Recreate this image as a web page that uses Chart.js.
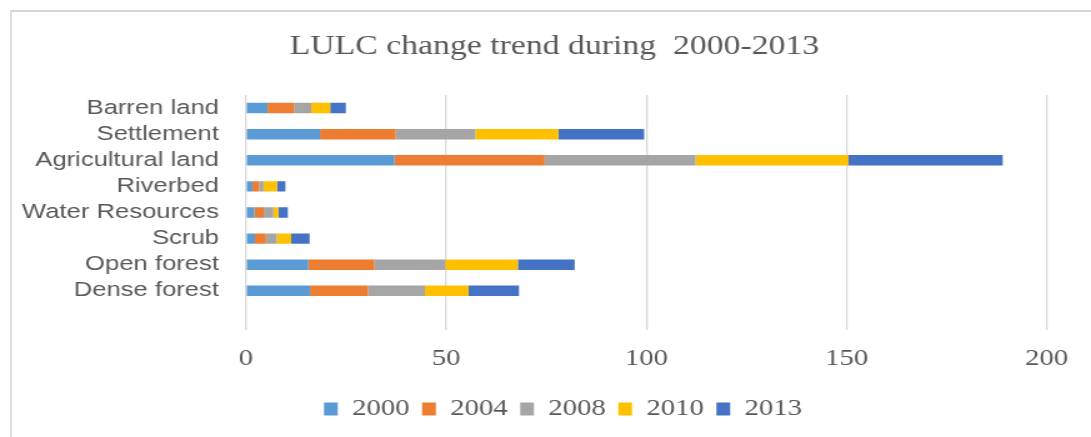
<!DOCTYPE html>
<html>
<head>
<meta charset="utf-8">
<script src="https://cdn.jsdelivr.net/npm/chart.js@4.4.1/dist/chart.umd.min.js"></script>
<style>
  html, body { margin: 0; padding: 0; background: #fff; overflow: hidden; }
  #stage { position: relative; width: 1091px; height: 437px; }
  #frame { position: absolute; left: 10px; top: 10px; right: -4px; bottom: -4px;
           border-left: 2px solid #dedede; border-top: 2px solid #d6d6d6; }
  #wrap { position: absolute; left: 0; top: 0; width: 873px; height: 437px;
          transform: scaleX(1.2497); transform-origin: 0 0; }
</style>
</head>
<body>
<div id="stage">
  <div id="frame"></div>
  <div id="wrap"><canvas id="c" width="873" height="437"></canvas></div>
</div>
<script>
// ---- data ----
const categories = ["Barren land", "Settlement", "Agricultural land", "Riverbed",
                    "Water Resources", "Scrub", "Open forest", "Dense forest", ""];
const years = ["2000", "2004", "2008", "2010", "2013"];
const v2000 = [5.4, 18.5, 37.1, 1.6, 2.1, 2.25, 15.6, 16.0, null];
const v2004 = [6.6, 18.9, 37.5, 1.7, 2.35, 2.75, 16.5, 14.5, null];
const v2008 = [4.3, 19.9, 37.7, 1.1, 2.4, 2.7, 17.7, 14.2, null];
const v2010 = [4.75, 20.75, 38.2, 3.35, 1.25, 3.6, 18.1, 10.9, null];
const v2013 = [3.9, 21.4, 38.5, 2.1, 2.35, 4.6, 14.2, 12.6, null];
const xTicks = [0, 50, 100, 150, 200];
const titleText = "LULC change trend during  2000-2013";

const colors = ["#5B9BD5", "#ED7D31", "#A5A5A5", "#FFC000", "#4472C4"];
const series = [v2000, v2004, v2008, v2010, v2013];

const textColor = "#595959";

const shiftPlugin = {
  id: "shiftBoxes",
  afterLayout(chart) {
    const t = chart.titleBlock;
    if (t) {
      const dx = 443.6 - (t.left + t.right) / 2;
      t.left += dx; t.right += dx;
    }
    const l = chart.legend;
    if (l) {
      const dx = 450.5 - (l.left + l.right) / 2;
      l.left += dx; l.right += dx;
      const dy = (409 - 21.5) - l.top;
      l.top += dy; l.bottom += dy;
    }
  }
};

new Chart(document.getElementById("c"), {
  type: "bar",
  data: {
    labels: categories,
    datasets: years.map((y, i) => ({
      label: y,
      data: series[i],
      backgroundColor: colors[i],
      borderWidth: 0,
      barPercentage: 0.4,
      categoryPercentage: 1.0
    }))
  },
  options: {
    indexAxis: "y",
    responsive: false,
    animation: false,
    devicePixelRatio: 1,
    layout: { padding: { left: 0, right: 35.4, top: 0, bottom: 0 } },
    scales: {
      x: {
        stacked: true,
        min: 0, max: 200,
        afterBuildTicks(scale) { scale.ticks = xTicks.map(v => ({ value: v })); },
        afterFit(scale) { scale.height = 64; },
        ticks: {
          color: textColor,
          padding: 15,
          font: { family: "'Liberation Serif', serif", size: 23 }
        },
        grid: { color: "#d9d9d9", lineWidth: 1.3, drawTicks: false },
        border: { display: false }
      },
      y: {
        stacked: true,
        afterFit(scale) { scale.width = 196.8; },
        ticks: {
          color: textColor,
          padding: 21.6,
          autoSkip: false,
          font: { family: "'Liberation Sans', sans-serif", size: 20.5 }
        },
        grid: { display: false, drawTicks: false },
        border: { display: false }
      }
    },
    plugins: {
      title: {
        display: true,
        text: titleText,
        color: textColor,
        font: { family: "'Liberation Serif', serif", size: 27, weight: "normal" },
        padding: { top: 30.8, bottom: 31.8 }
      },
      legend: {
        position: "bottom",
        labels: {
          color: textColor,
          boxWidth: 11,
          boxHeight: 13,
          padding: 10,
          font: { family: "'Liberation Serif', serif", size: 23 }
        }
      },
      tooltip: { enabled: false }
    }
  },
  plugins: [shiftPlugin]
});
</script>
</body>
</html>
